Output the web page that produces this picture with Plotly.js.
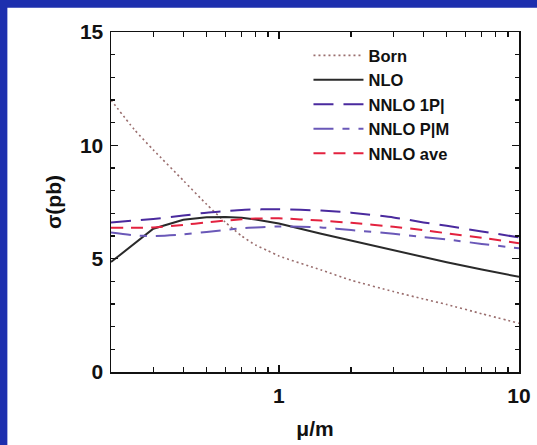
<!DOCTYPE html>
<html>
<head>
<meta charset="utf-8">
<script src="https://cdn.plot.ly/plotly-3.0.1.min.js"></script>
<style>html,body{margin:0;padding:0;background:#1d2fae;}#chart{width:537px;height:445px;}</style>
</head>
<body>
<div id="chart"></div>
<script>
// scale ratio mu/m
var mu = [0.2, 0.25, 0.3, 0.4, 0.5, 0.6, 0.7, 0.8, 0.9, 1, 1.5, 2, 3, 4, 5, 7, 10];
var born = [12.0, 10.7, 9.8, 8.45, 7.4, 6.6, 6.0, 5.6, 5.35, 5.12, 4.5, 4.05, 3.55, 3.22, 2.98, 2.57, 2.15];
var muNLO = [0.2, 0.3, 0.4, 0.5, 0.6, 0.7, 0.8, 1, 1.5, 2, 3, 4, 5, 7, 10];
var nlo = [4.85, 6.32, 6.72, 6.83, 6.84, 6.8, 6.73, 6.55, 6.1, 5.8, 5.36, 5.05, 4.84, 4.52, 4.2];
var nnlo1P = [6.6, 6.68, 6.75, 6.9, 7.03, 7.1, 7.15, 7.17, 7.18, 7.18, 7.12, 7.03, 6.82, 6.6, 6.45, 6.2, 5.94];
var nnloPM = [6.15, 6.03, 6.0, 6.07, 6.18, 6.27, 6.34, 6.38, 6.4, 6.42, 6.38, 6.26, 6.1, 5.95, 5.85, 5.65, 5.46];
var nnloAve = [6.36, 6.36, 6.38, 6.49, 6.6, 6.68, 6.74, 6.77, 6.78, 6.78, 6.68, 6.58, 6.41, 6.26, 6.12, 5.92, 5.68];
var names = ["Born", "NLO", "NNLO 1P|", "NNLO P|M", "NNLO ave"];
var yTicks = [0, 5, 10, 15];
var xTicks = [1, 10];
var xMinor = [0.3, 0.4, 0.5, 0.6, 0.7, 0.8, 0.9, 2, 3, 4, 5, 6, 7, 8, 9];

var traces = [
  {x: mu, y: born, name: names[0], mode: 'lines',
   line: {color: '#9a6e6e', width: 1.6, dash: '2px,3px', shape: 'spline', smoothing: 0.6}},
  {x: muNLO, y: nlo, name: names[1], mode: 'lines',
   line: {color: '#2a2a2a', width: 2}},
  {x: mu, y: nnlo1P, name: names[2], mode: 'lines',
   line: {color: '#4a2a9e', width: 2, dash: '20px,10px', shape: 'spline', smoothing: 0.6}},
  {x: mu, y: nnloPM, name: names[3], mode: 'lines',
   line: {color: '#6a58b8', width: 2, dash: '20px,9px,7px,9px', shape: 'spline', smoothing: 0.6}},
  {x: mu, y: nnloAve, name: names[4], mode: 'lines',
   line: {color: '#e3223f', width: 2, dash: '12px,8px', shape: 'spline', smoothing: 0.6}}
];

var font = {family: 'Liberation Sans, Arial, sans-serif', weight: 'bold', color: '#111', size: 21};

var layout = {
  width: 537, height: 445,
  margin: {l: 110.7, r: 18, t: 31.7, b: 72.7, pad: 0},
  paper_bgcolor: '#1d2fae',
  plot_bgcolor: '#ffffff',
  showlegend: true,
  font: font,
  shapes: [{type: 'rect', xref: 'paper', yref: 'paper', x0: -0.254, x1: 1.1, y0: -0.3, y1: 1.0716,
            fillcolor: '#ffffff', line: {width: 0}, layer: 'below'}],
  xaxis: {
    type: 'log', range: [Math.log10(0.2), 1],
    showline: true, linecolor: '#111', linewidth: 1.5, mirror: 'allticks',
    ticks: 'inside', ticklen: 7, tickwidth: 1.3, tickcolor: '#111',
    tickmode: 'array', tickvals: xTicks, ticktext: xTicks.map(String),
    minor: {tickmode: 'array', tickvals: xMinor, ticks: 'inside', ticklen: 5, tickwidth: 1.3, tickcolor: '#111', showgrid: false},
    showgrid: false, zeroline: false,
    tickfont: font, ticklabelstandoff: 4,
    title: {text: 'μ/m', font: font, standoff: 15}
  },
  yaxis: {
    range: [0, 15],
    showline: true, linecolor: '#111', linewidth: 1.5, mirror: 'allticks',
    ticks: 'inside', ticklen: 7, tickwidth: 1.3, tickcolor: '#111',
    tickmode: 'array', tickvals: yTicks, ticktext: yTicks.map(String),
    minor: {dtick: 1, ticks: 'inside', ticklen: 4, tickwidth: 1.3, tickcolor: '#111', showgrid: false},
    showgrid: false, zeroline: false,
    tickfont: font, ticklabelstandoff: 2,
    title: {text: 'σ(pb)', font: font, standoff: 12}
  },
  legend: {
    x: 0.484, y: 0.982, xanchor: 'left', yanchor: 'top',
    bgcolor: 'rgba(0,0,0,0)', borderwidth: 0,
    font: {family: 'Liberation Sans, Arial, sans-serif', weight: 'bold', size: 16.5, color: '#111'},
    itemwidth: 50
  }
};

Plotly.newPlot('chart', traces, layout, {displayModeBar: false, staticPlot: true});
</script>
</body>
</html>
